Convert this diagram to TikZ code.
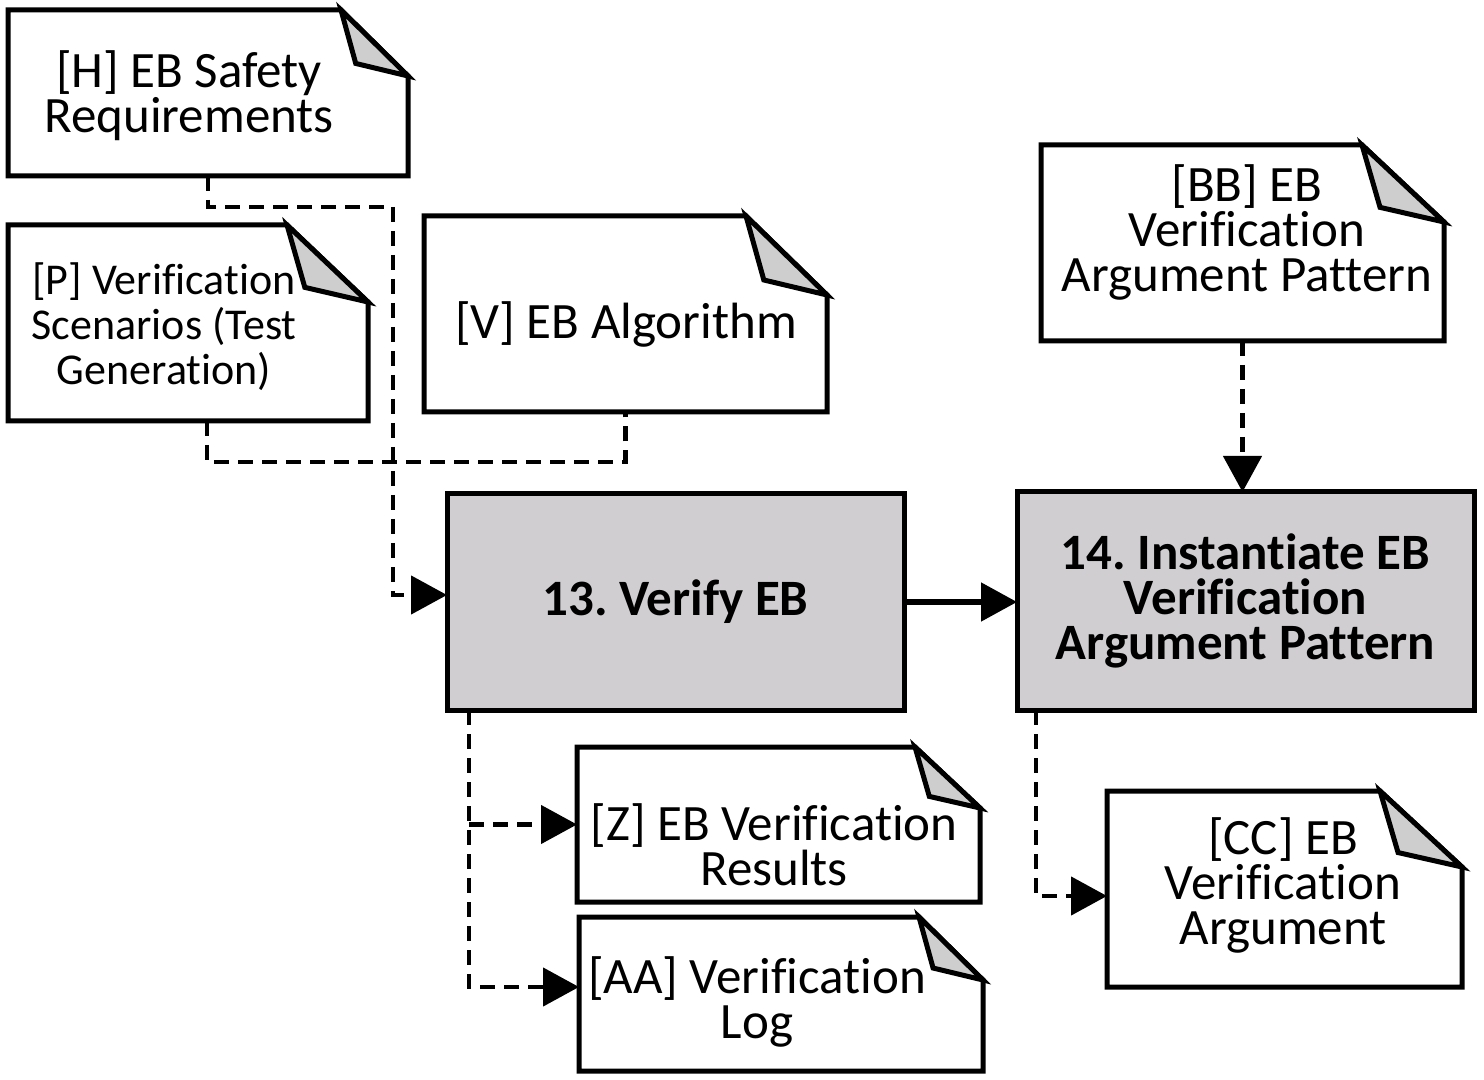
\documentclass[tikz,border=0pt]{standalone}
\usepackage{fontspec}
\setmainfont[Ligatures={NoCommon}]{Carlito}
\usetikzlibrary{calc,arrows.meta}
\definecolor{procgray}{RGB}{208,206,209}
\definecolor{foldgray}{RGB}{206,206,206}
\newcommand\docfold[3]{%
  \draw[docline,fill=white] (#1.north west) -- ($(#1.north east)+(-#2,0)$) -- ($(#1.north east)+(0,#3)$) -- (#1.south east) -- (#1.south west) -- cycle;
  \draw[docline,fill=foldgray] ($(#1.north east)+(-#2,0)$) -- ($(#1.north east)+(-0.78*#2,0.81*#3)$) -- ($(#1.north east)+(0,#3)$) -- cycle;}
\frenchspacing
\begin{document}
\begin{tikzpicture}[x=0.5pt,y=-0.5pt,
  frame/.style={rectangle,inner sep=0pt,outer sep=0pt},
  docline/.style={line width=2.5pt,line join=miter},
  proc/.style={frame,draw,line width=2.5pt,fill=procgray,align=center,
    font={\bfseries\fontsize{25.5pt}{22.5pt}\selectfont\lineskiplimit=-100pt}},
  doctext/.style={align=center,inner sep=0pt,
    font={\fontsize{25.5pt}{22.5pt}\selectfont\lineskiplimit=-100pt}},
  smalltext/.style={align=center,inner sep=0pt,
    font={\fontsize{22pt}{22.5pt}\selectfont\lineskiplimit=-100pt}},
  dashline/.style={line width=2.3pt,dash pattern=on 7.5pt off 4.5pt},
  tip/.style={-{Triangle[length=18pt,width=19pt]}}
]
\useasboundingbox (0,0) rectangle (1484,1080);

% document frames
\node[frame,minimum width=200pt,minimum height=83pt] (h) at (208,93) {};
\node[frame,minimum width=180pt,minimum height=98pt] (p) at (188,323) {};
\node[frame,minimum width=201.5pt,minimum height=98pt] (v) at (625.5,314) {};
\node[frame,minimum width=201.5pt,minimum height=98pt] (bb) at (1242.5,243) {};
\node[frame,minimum width=201.5pt,minimum height=77.5pt] (z) at (778.5,824.5) {};
\node[frame,minimum width=202pt,minimum height=77pt] (aa) at (781,994) {};
\node[frame,minimum width=177.5pt,minimum height=98pt] (cc) at (1284.5,889) {};

\docfold{h}{67}{66}
\docfold{p}{81}{77}
\docfold{v}{81}{79}
\docfold{bb}{82}{77}
\docfold{z}{65}{61}
\docfold{aa}{64}{63}
\docfold{cc}{82}{76}

% process boxes
\node[proc,minimum width=228.5pt,minimum height=108pt] (v13) at (675.5,602) {13. Verify EB};
\node[proc,minimum width=228.5pt,minimum height=109pt] (v14) at (1245.5,601) {14. Instantiate EB\\Verification\\Argument Pattern};

% document texts
\node[doctext] (tH) at (189,96) {[H] EB Safety\\Requirements};
\node[smalltext] (tP) at (164,327) {[P] Verification\\Scenarios (Test\\Generation)};
\node[doctext] (tV) at (626,324) {[V] EB Algorithm};
\node[doctext] (tBB) at (1247,232) {[BB] EB\\Verification\\Argument Pattern};
\node[doctext] (tZ) at (774,845) {[Z] EB Verification\\Results};
\node[doctext] (tAA) at (757,1002) {[AA] Verification\\Log};
\node[doctext] (tCC) at (1283,885) {[CC] EB\\Verification\\Argument};

% connectors
\coordinate (j1) at (393,207);
\draw[dashline,tip] (h.south) |- (j1) |- ($(v13.west)+(0,-7)$);
\draw[dashline] ($(p.south)+(19,0)$) -- ++(0,41) -| (v.south);
\draw[line width=2.5pt,tip] (v13.east) -- (v13.east -| v14.west);
\draw[dashline,tip] (bb.south) -- (bb.south |- v14.north);
\coordinate (k) at ($(v13.south west)+(22,0)$);
\draw[dashline,tip] (k) |- ($(aa.west)+(0,-7)$);
\draw[dashline,tip] (k |- z.west) -- (z.west);
\coordinate (m) at ($(v14.south west)+(19,0)$);
\draw[dashline,tip] (m) |- ($(cc.west)+(0,7)$);
\end{tikzpicture}
\end{document}
